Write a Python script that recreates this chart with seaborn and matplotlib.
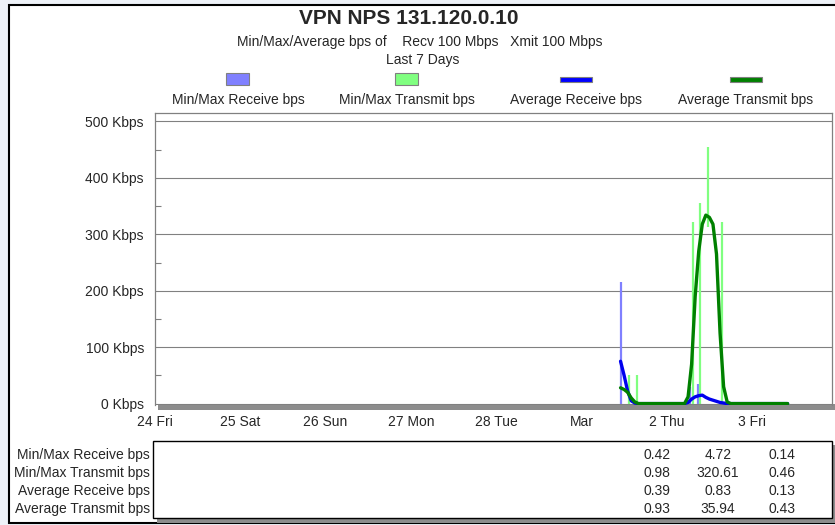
import pandas as pd
import seaborn as sns
import matplotlib.pyplot as plt
from matplotlib.patches import Rectangle
from matplotlib.ticker import MultipleLocator

# x = hours since Fri 24 00:00
hours = [131, 132, 133, 134, 135, 136, 137, 138, 139, 140, 141, 142, 143, 144, 145, 146,
         147, 148, 149, 150, 151, 152, 153, 154, 155, 156, 157, 158, 159, 160, 161, 162,
         163, 164, 165, 166, 167, 168, 169, 170, 171, 172, 173, 174, 175, 176, 177, 178]
avg_rx = [75, 50, 22, 5, 1, 0, 0, 0, 0, 0, 0, 0, 0, 0, 0, 0,
          0, 0, 0, 2, 8, 12, 14, 15, 11, 8, 6, 4, 2, 1, 0, 0,
          0, 0, 0, 0, 0, 0, 0, 0, 0, 0, 0, 0, 0, 0, 0, 0]
avg_tx = [28, 25, 20, 10, 3, 0, 0, 0, 0, 0, 0, 0, 0, 0, 0, 0,
          0, 0, 0, 12, 70, 190, 270, 318, 334, 330, 318, 265, 125, 30, 3, 0,
          0, 0, 0, 0, 0, 0, 0, 0, 0, 0, 0, 0, 0, 0, 0, 0]

# min/max bars
rx_bar_h = [131, 150.5, 152.8]
rx_bar_lo = [0, 0, 0]
rx_bar_hi = [215, 30, 35]
tx_bar_h = [133.5, 135.5, 151.4, 153.4, 155.6, 159.5]
tx_bar_lo = [0, 0, 0, 0, 313, 0]
tx_bar_hi = [50, 50, 322, 355, 455, 322]

day_ticks = [0, 24, 48, 72, 96, 120, 144, 168]
day_labels = ["24 Fri", "25 Sat", "26 Sun", "27 Mon", "28 Tue", "Mar", "2 Thu", "3 Fri"]

row_names = ["Min/Max Receive bps", "Min/Max Transmit bps", "Average Receive bps", "Average Transmit bps"]
col1 = ["0.42", "0.98", "0.39", "0.93"]
col2 = ["4.72", "320.61", "0.83", "35.94"]
col3 = ["0.14", "0.46", "0.13", "0.43"]

sns.set_style("white")
plt.rcParams['font.family'] = ['Liberation Sans', 'DejaVu Sans']
FS = 10

W, H = 835, 525
fig = plt.figure(figsize=(W / 100, H / 100), dpi=100)
fig.patch.set_facecolor("#eef2f8")


def px(x, y, w, h, **kw):
    # rectangle in pixel coords (top-left origin)
    r = Rectangle((x / W, 1 - (y + h) / H), w / W, h / H, transform=fig.transFigure, **kw)
    fig.add_artist(r)
    return r


px(9, 5, 840, 518, facecolor="white", edgecolor="black", linewidth=1.5, zorder=-3)
px(158, 404, 680, 6, facecolor="#8c8c8c", edgecolor="none", zorder=-1)

ax = fig.add_axes([155 / W, 1 - 405 / H, 677 / W, 292 / H])
ax.set_facecolor("none")

df = pd.DataFrame({"hour": hours, "rx": avg_rx, "tx": avg_tx})

ax.vlines(rx_bar_h, rx_bar_lo, rx_bar_hi, color="#8080ff", linewidth=1.6, zorder=2)
ax.vlines(tx_bar_h, tx_bar_lo, tx_bar_hi, color="#80ff80", linewidth=1.6, zorder=2)
sns.lineplot(data=df, x="hour", y="rx", ax=ax, color="#0000ee", linewidth=2.4, zorder=3)
sns.lineplot(data=df, x="hour", y="tx", ax=ax, color="#008000", linewidth=2.4, zorder=4)

ax.set_xlim(0, 190.5)
ax.set_ylim(-2.5, 515)
ax.set_xlabel("")
ax.set_ylabel("")

ax.yaxis.set_minor_locator(MultipleLocator(50))
ax.set_yticks([0, 100, 200, 300, 400, 500])
ax.set_yticklabels([f"{v} Kbps" for v in [0, 100, 200, 300, 400, 500]])
ax.set_xticks(day_ticks)
ax.set_xticklabels(day_labels)

ax.tick_params(axis="y", which="major", direction="out", length=6, width=0.8,
               color="#808080", labelsize=FS, pad=2)
ax.tick_params(axis="y", which="minor", direction="in", length=4, width=0.8,
               color="#808080", left=True)
ax.tick_params(axis="x", which="major", direction="inout", length=13, width=0.8,
               color="#808080", labelsize=FS, pad=1)
ax.grid(axis="y", color="#808080", linewidth=0.8)
ax.grid(axis="x", visible=False)

for s in ["left", "top", "right"]:
    ax.spines[s].set_visible(True)
    ax.spines[s].set_color("#808080")
    ax.spines[s].set_linewidth(0.9)
ax.spines["bottom"].set_visible(False)

# titles
fig.text(409 / W, 1 - 18 / H, "VPN NPS 131.120.0.10", ha="center", va="center",
         fontsize=15, fontweight="bold")
fig.text(420 / W, 1 - 42 / H, "Min/Max/Average bps of    Recv 100 Mbps   Xmit 100 Mbps",
         ha="center", va="center", fontsize=FS)
fig.text(423 / W, 1 - 60 / H, "Last 7 Days", ha="center", va="center", fontsize=FS)

# legend
leg_x = [238, 407, 576, 746]
leg_names = ["Min/Max Receive bps", "Min/Max Transmit bps", "Average Receive bps", "Average Transmit bps"]
px(leg_x[0] - 12, 73, 23, 12, facecolor="#8080ff", edgecolor="#808080", linewidth=0.8)
px(leg_x[1] - 12, 73, 23, 12, facecolor="#80ff80", edgecolor="#808080", linewidth=0.8)
px(leg_x[2] - 16, 77, 32, 5, facecolor="#0000ff", edgecolor="#808080", linewidth=0.8)
px(leg_x[3] - 16, 77, 32, 5, facecolor="#008000", edgecolor="#808080", linewidth=0.8)
for x, name in zip(leg_x, leg_names):
    fig.text(x / W, 1 - 100 / H, name, ha="center", va="center", fontsize=FS)

# summary table
px(157, 445, 679, 78, facecolor="#8c8c8c", edgecolor="none", zorder=-1)
px(153, 441, 679, 77, facecolor="white", edgecolor="black", linewidth=1.0, zorder=-0.5)
row_y = [455, 473, 491, 509]
for y, name, a, b, c in zip(row_y, row_names, col1, col2, col3):
    fig.text(150 / W, 1 - y / H, name, ha="right", va="center", fontsize=FS)
    fig.text(657 / W, 1 - y / H, a, ha="center", va="center", fontsize=FS)
    fig.text(718 / W, 1 - y / H, b, ha="center", va="center", fontsize=FS)
    fig.text(782 / W, 1 - y / H, c, ha="center", va="center", fontsize=FS)

fig.savefig("out.png", dpi=100, facecolor=fig.get_facecolor())
